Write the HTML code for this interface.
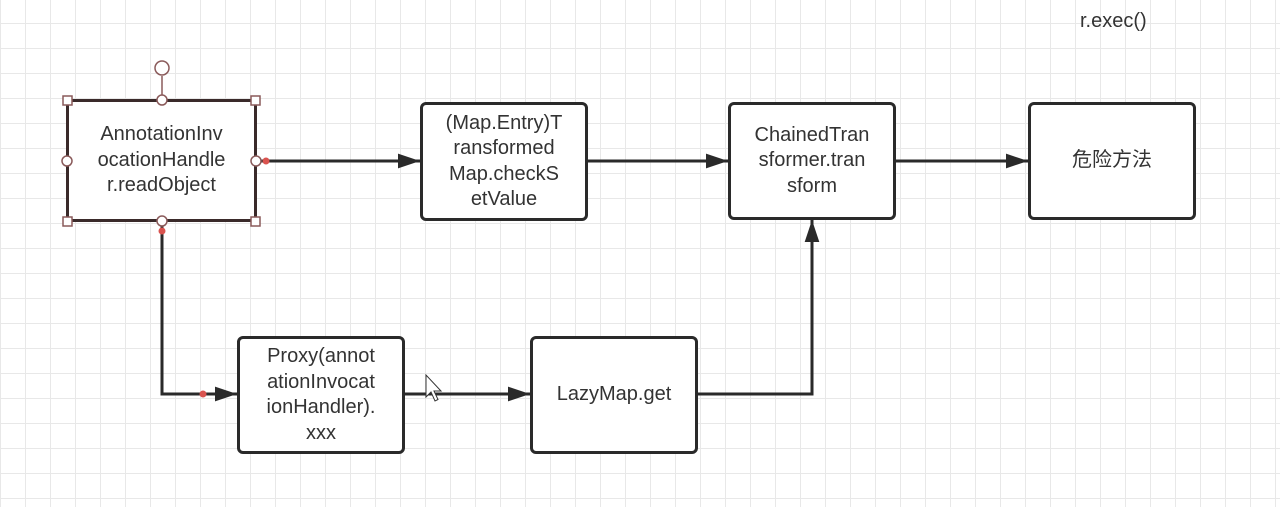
<!DOCTYPE html>
<html><head><meta charset="utf-8"><style>
html,body{margin:0;padding:0}
body{width:1280px;height:507px;overflow:hidden;position:relative;background:#fff;
background-image:linear-gradient(to right,#e8e8e8 1px,transparent 1px),linear-gradient(to bottom,#e8e8e8 1px,transparent 1px);
background-size:25px 25px;background-position:0 -2px;font-family:"Liberation Sans","Noto Sans CJK SC",sans-serif}
.b{position:absolute;box-sizing:border-box;border:3px solid #2a2a2a;border-radius:6px;background:#fff;display:flex;align-items:center;justify-content:center;text-align:center;font-size:20px;line-height:25.5px;color:#333}
svg{position:absolute;left:0;top:0}
</style></head><body>
<svg width="1280" height="507">
<defs>
<marker id="A" viewBox="0 0 24 16" refX="24" refY="8" markerWidth="22" markerHeight="15" orient="auto" markerUnits="userSpaceOnUse"><path d="M0,0L24,8L0,16z" fill="#2a2a2a"/></marker></defs>
<g stroke="#2a2a2a" stroke-width="3" fill="none">
<path d="M256,161H420" marker-end="url(#A)"/>
<path d="M587,161H728" marker-end="url(#A)"/>
<path d="M895,161H1028" marker-end="url(#A)"/>
<path d="M162,222V394H237" marker-end="url(#A)"/>
<path d="M404,394H530" marker-end="url(#A)"/>
<path d="M697,394H812V220" marker-end="url(#A)"/>
</g>
</svg>
<div class="b" style="left:66px;top:99px;width:191px;height:123px;border-radius:0;border-color:#3a2a2a">AnnotationInv<br>ocationHandle<br>r.readObject</div>
<div class="b" style="left:420px;top:102px;width:168px;height:119px">(Map.Entry)T<br>ransformed<br>Map.checkS<br>etValue</div>
<div class="b" style="left:728px;top:102px;width:168px;height:118px">ChainedTran<br>sformer.tran<br>sform</div>
<div class="b" style="left:1028px;top:102px;width:168px;height:118px">危险方法</div>
<div class="b" style="left:237px;top:336px;width:168px;height:118px">Proxy(annot<br>ationInvocat<br>ionHandler).<br>xxx</div>
<div class="b" style="left:530px;top:336px;width:168px;height:118px">LazyMap.get</div>
<div style="position:absolute;left:1080px;top:10px;font-size:20px;color:#333">r.exec()</div>
<svg width="1280" height="507">
<g stroke="#8a5a5a" stroke-width="1.5" fill="#fff">
<line x1="162" y1="76" x2="162" y2="100"/>
<circle cx="162" cy="68" r="7"/>
<rect x="63" y="96" width="9" height="9"/><rect x="251" y="96" width="9" height="9"/>
<rect x="63" y="217" width="9" height="9"/><rect x="251" y="217" width="9" height="9"/>
<circle cx="162" cy="100" r="5"/><circle cx="162" cy="221" r="5"/>
<circle cx="67" cy="161" r="5"/><circle cx="256" cy="161" r="5"/>
</g>
<g fill="#d9534f"><circle cx="266" cy="161" r="3.5"/><circle cx="162" cy="231" r="3.5"/><circle cx="203" cy="394" r="3.5"/></g>
<path d="M426,375v22l5,-5l4,9l3,-1.5l-4,-8.5h7z" fill="#fff" stroke="#333" stroke-width="1"/>
</svg>
</body></html>
